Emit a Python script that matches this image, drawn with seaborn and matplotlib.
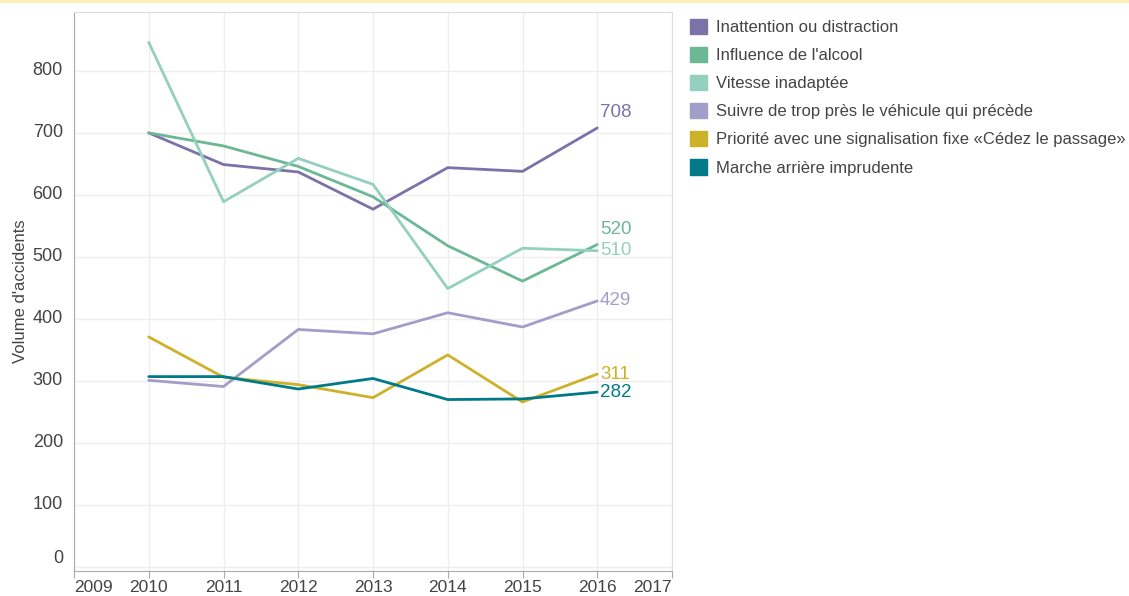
import pandas as pd
import matplotlib.pyplot as plt
import seaborn as sns
from matplotlib.patches import Patch
from matplotlib.lines import Line2D

# données
annees = [2010, 2011, 2012, 2013, 2014, 2015, 2016]
categories = [
    "Inattention ou distraction",
    "Influence de l'alcool",
    "Vitesse inadaptée",
    "Suivre de trop près le véhicule qui précède",
    "Priorité avec une signalisation fixe «Cédez le passage»",
    "Marche arrière imprudente",
]
inattention = [700, 649, 637, 577, 644, 638, 708]
alcool = [700, 679, 646, 597, 518, 461, 520]
vitesse = [846, 589, 659, 617, 449, 514, 510]
suivre = [301, 291, 383, 376, 410, 387, 429]
priorite = [371, 306, 294, 273, 342, 266, 311]
marche = [307, 307, 287, 304, 270, 271, 282]
couleurs = ["#7b72aa", "#6bb796", "#93d0bd", "#a39dc9", "#cdb229", "#007a88"]

series = [inattention, alcool, vitesse, suivre, priorite, marche]
rows = []
for cat, vals in zip(categories, series):
    for a, v in zip(annees, vals):
        rows.append({"annee": a, "categorie": cat, "volume": v})
data = pd.DataFrame(rows)
palette = dict(zip(categories, couleurs))

sns.set_style("white")
plt.rcParams['font.family'] = ['Liberation Sans', 'DejaVu Sans']

fig = plt.figure(figsize=(11.29, 5.96), dpi=100)
ax = fig.add_axes([74 / 1129, 25 / 596, 598 / 1129, 559 / 596])

sns.lineplot(data=data, x="annee", y="volume", hue="categorie",
             palette=palette, linewidth=2.0, legend=False, ax=ax)

ax.set_xlim(2009, 2017)
ax.set_ylim(-6.5, 895)
ax.set_xticks(range(2009, 2018))
ax.set_yticks(range(0, 900, 100))
ax.grid(True, color="#eeeeee", linewidth=1)
ax.set_axisbelow(True)
ax.tick_params(axis="x", length=5, color="#aaaaaa", labelsize=12.5,
               labelcolor="#444444", pad=1.5, bottom=True)
ax.tick_params(axis="y", length=0, labelsize=13, labelcolor="#444444", pad=8)
xlabs = ax.get_xticklabels()
xlabs[0].set_horizontalalignment("left")
xlabs[-1].set_horizontalalignment("right")
for lab in ax.get_yticklabels():
    lab.set_verticalalignment("center")
ax.get_yticklabels()[0].set_verticalalignment("bottom")
ax.set_xlabel("")
ax.set_ylabel("Volume d'accidents", fontsize=12, color="#444444", labelpad=3)
for side in ["top", "right"]:
    ax.spines[side].set_color("#dddddd")
for side in ["left", "bottom"]:
    ax.spines[side].set_color("#aaaaaa")

# étiquettes de fin de ligne
decalage = [11, 11, 0, 0, 0, 0]
for vals, c, d in zip(series, couleurs, decalage):
    ax.annotate(str(vals[-1]), (annees[-1], vals[-1]), xytext=(2, d),
                textcoords="offset points", color=c, fontsize=13.5,
                ha="left", va="center")

handles = [Patch(facecolor=c, edgecolor=c) for c in couleurs]
fig.legend(handles, categories, loc="upper left", bbox_to_anchor=(0.599, 0.991),
           frameon=False, fontsize=12, handlelength=1.05, handleheight=1.05,
           handletextpad=0.55, labelspacing=0.7, labelcolor="#444444",
           borderpad=0.3)

# filet jaune en haut
fig.add_artist(Line2D([0, 1], [0.998, 0.998], color="#fdeeb3", linewidth=2,
                      transform=fig.transFigure))

plt.savefig("out.png", dpi=100)
